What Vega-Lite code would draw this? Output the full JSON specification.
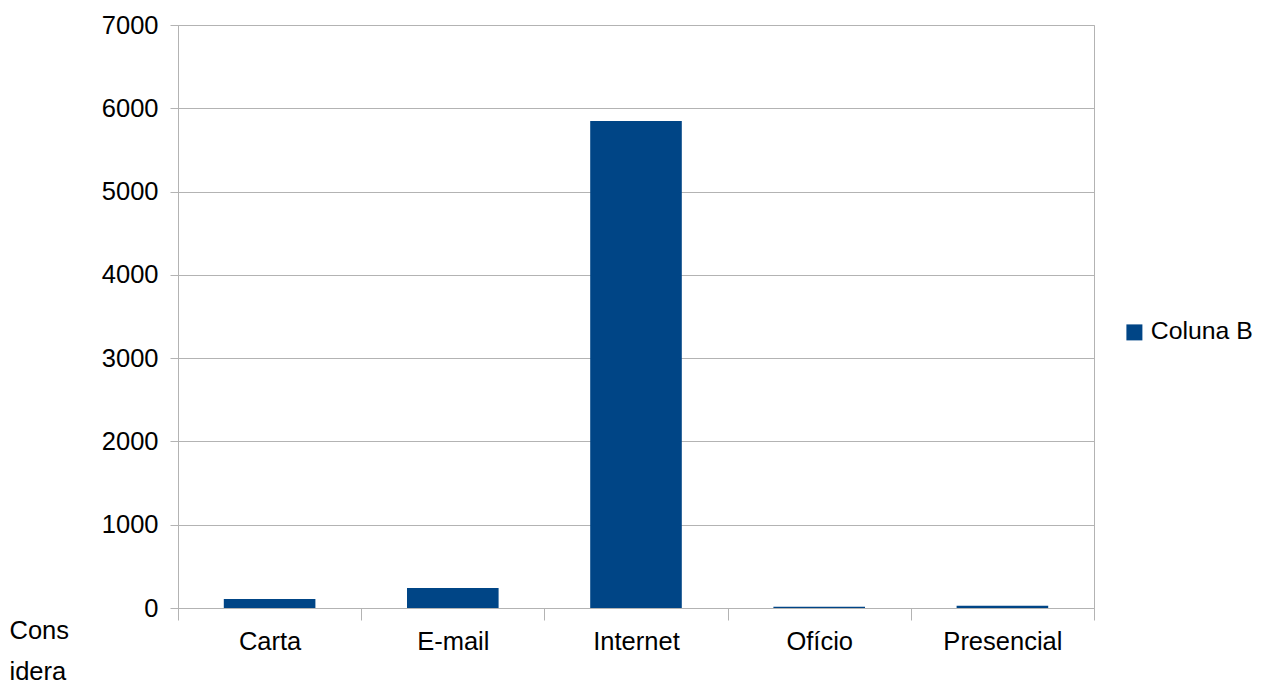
{
  "$schema": "https://vega.github.io/schema/vega-lite/v6.json",
  "autosize": "none",
  "width": 916,
  "height": 583,
  "padding": {"left": 178, "top": 25, "right": 167, "bottom": 79},
  "background": "white",
  "config": {
    "font": "Liberation Sans",
    "view": {"stroke": "#b3b3b3", "strokeWidth": 1}
  },
  "data": {
    "values": [
      {"categoria": "Carta", "valor": 108, "serie": "Coluna B"},
      {"categoria": "E-mail", "valor": 240, "serie": "Coluna B"},
      {"categoria": "Internet", "valor": 5847, "serie": "Coluna B"},
      {"categoria": "Ofício", "valor": 16, "serie": "Coluna B"},
      {"categoria": "Presencial", "valor": 28, "serie": "Coluna B"}
    ]
  },
  "mark": {"type": "bar", "width": {"band": 0.5}},
  "encoding": {
    "x": {
      "field": "categoria",
      "type": "nominal",
      "sort": null,
      "scale": {"paddingInner": 0, "paddingOuter": 0},
      "axis": {
        "title": ["Cons", "idera"],
        "titleFontSize": 25.5,
        "titleFontWeight": "normal",
        "titleColor": "black",
        "titleLineHeight": 41,
        "titleAlign": "left",
        "titleBaseline": "alphabetic",
        "titleAnchor": "start",
        "titleX": -169,
        "titleY": 30,
        "labelAngle": 0,
        "labelFontSize": 25.5,
        "labelColor": "black",
        "labelPadding": 9,
        "tickBand": "extent",
        "tickSize": 12,
        "tickColor": "#b3b3b3",
        "domainColor": "#b3b3b3",
        "grid": false
      }
    },
    "y": {
      "field": "valor",
      "type": "quantitative",
      "scale": {"domain": [0, 7000], "nice": false},
      "axis": {
        "title": null,
        "values": [0, 1000, 2000, 3000, 4000, 5000, 6000, 7000],
        "format": "d",
        "labelFontSize": 25.5,
        "labelColor": "black",
        "labelPadding": 12,
        "tickSize": 8,
        "tickColor": "#b3b3b3",
        "domainColor": "#b3b3b3",
        "gridColor": "#b3b3b3",
        "grid": true
      }
    },
    "color": {
      "field": "serie",
      "type": "nominal",
      "scale": {"range": ["#004586"]},
      "legend": {
        "title": null,
        "orient": "none",
        "legendX": 944,
        "legendY": 295,
        "symbolType": "square",
        "symbolSize": 256,
        "symbolStrokeWidth": 0,
        "symbolOpacity": 1,
        "labelFontSize": 24.8,
        "labelColor": "black",
        "labelOffset": 4
      }
    }
  }
}
